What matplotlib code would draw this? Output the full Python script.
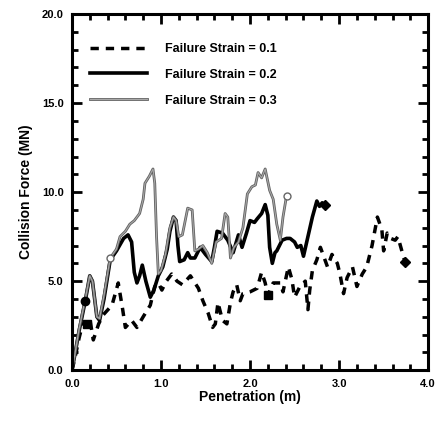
import matplotlib
matplotlib.use('Agg')
import matplotlib.pyplot as plt
import matplotlib.patheffects as pe
from matplotlib.ticker import MultipleLocator, FormatStrFormatter

plt.rcParams['font.family'] = ['Liberation Sans', 'DejaVu Sans']
plt.rcParams['font.weight'] = 'bold'

# Failure Strain = 0.1 (dashed)
x1 = [0, 0.03, 0.08, 0.12, 0.17, 0.2, 0.24, 0.3, 0.35, 0.45, 0.52, 0.57, 0.6, 0.67, 0.73,
      0.8, 0.88, 0.93, 0.97, 1.01, 1.06, 1.12, 1.18, 1.24, 1.33, 1.42, 1.47, 1.53, 1.58, 1.61,
      1.64, 1.69, 1.74, 1.78, 1.81, 1.85, 1.89, 1.92, 2.0, 2.08, 2.13, 2.17, 2.2, 2.26, 2.34,
      2.37, 2.43, 2.47, 2.5, 2.56, 2.62, 2.65, 2.67, 2.7, 2.75, 2.79, 2.87, 2.92, 2.98, 3.01,
      3.05, 3.09, 3.15, 3.2, 3.26, 3.31, 3.37, 3.43, 3.48, 3.5, 3.54, 3.58, 3.63, 3.66, 3.71, 3.74]
y1 = [0, 0.6, 1.8, 2.6, 2.6, 2.9, 1.7, 2.6, 3.1, 3.65, 4.9, 3.4, 2.4, 2.8, 2.4,
      3.0, 3.65, 4.7, 4.9, 4.5, 5.0, 5.4, 5.0, 4.8, 5.3, 4.6, 3.9, 3.2, 2.4, 2.6,
      3.8, 2.8, 2.6, 3.8, 4.4, 4.8, 3.9, 4.3, 4.4, 4.6, 5.5, 4.9, 4.2, 4.9, 4.9,
      4.4, 5.8, 5.1, 4.1, 4.7, 5.0, 3.4, 4.5, 5.6, 6.2, 6.9, 5.8, 6.5, 6.0, 5.4,
      4.3, 5.2, 5.8, 4.7, 5.4, 5.8, 7.0, 8.6, 7.9, 6.7, 7.7, 7.4, 7.3, 7.5, 6.6, 6.1]

# Failure Strain = 0.2 (solid)
x2 = [0, 0.03, 0.08, 0.15, 0.2, 0.23, 0.28, 0.31, 0.36, 0.43, 0.5, 0.58, 0.63, 0.67, 0.7,
      0.73, 0.76, 0.79, 0.83, 0.88, 0.92, 0.97, 1.02, 1.07, 1.1, 1.14, 1.17, 1.19, 1.21, 1.26,
      1.3, 1.33, 1.38, 1.44, 1.5, 1.57, 1.6, 1.63, 1.69, 1.75, 1.81, 1.87, 1.91, 1.96, 2.0,
      2.05, 2.08, 2.13, 2.17, 2.2, 2.22, 2.25, 2.28, 2.3, 2.36, 2.41, 2.45, 2.5, 2.53, 2.57,
      2.6, 2.65, 2.7, 2.75, 2.78, 2.81, 2.84]
y2 = [0, 0.8, 2.2, 3.9, 5.3, 5.0, 3.0, 2.8, 4.0, 6.2, 6.7, 7.4, 7.6, 7.2, 5.5,
      4.9, 5.3, 5.9, 5.0, 4.1, 4.5, 5.3, 5.8, 6.8, 7.8, 8.6, 8.4, 7.0, 6.1, 6.2,
      6.6, 6.3, 6.3, 6.9, 6.5, 6.1, 6.9, 7.8, 7.7, 7.3, 6.6, 7.6, 6.9, 7.7, 8.4,
      8.3, 8.5, 8.8, 9.3, 8.7, 6.9, 6.0, 6.6, 6.7, 7.3, 7.4, 7.4, 7.2, 6.9, 7.0,
      6.4, 7.5, 8.6, 9.5, 9.2, 9.4, 9.3]

# Failure Strain = 0.3 (grey)
x3 = [0, 0.03, 0.08, 0.15, 0.2, 0.23, 0.28, 0.31, 0.36, 0.43, 0.5, 0.54, 0.6, 0.65, 0.7,
      0.76, 0.8, 0.82, 0.87, 0.91, 0.93, 0.95, 0.97, 1.0, 1.05, 1.1, 1.14, 1.17, 1.2, 1.24,
      1.3, 1.35, 1.38, 1.42, 1.47, 1.52, 1.57, 1.62, 1.68, 1.72, 1.75, 1.78, 1.82, 1.87, 1.92,
      1.97, 2.02, 2.06, 2.09, 2.13, 2.17, 2.22, 2.26, 2.3, 2.34, 2.37, 2.41]
y3 = [0, 0.8, 2.3, 4.0, 5.3, 5.0, 3.0, 2.9, 4.2, 6.3, 6.8, 7.5, 7.8, 8.2, 8.4,
      8.8, 9.6, 10.5, 10.9, 11.3, 10.5, 7.5, 5.4, 5.6, 6.5, 8.0, 8.6, 8.4, 7.5, 7.6,
      9.1, 9.0, 6.7, 6.8, 7.0, 6.6, 6.0, 7.2, 7.4, 8.8, 8.6, 6.3, 6.9, 7.2, 8.0,
      9.9, 10.3, 10.4, 11.1, 10.8, 11.3, 10.1, 9.6, 8.2, 7.3, 8.6, 9.8]

fig = plt.figure(figsize=(4.36, 4.26), dpi=100)
ax = fig.add_axes([0.165, 0.131, 0.817, 0.836])

ax.plot(x1, y1, color='black', lw=2.5, dashes=(2.4, 2.0), label='Failure Strain = 0.1')
ax.plot(x2, y2, color='black', lw=2.6, label='Failure Strain = 0.2')
ax.plot(x3, y3, color='#a8a8a8', lw=0.8, label='Failure Strain = 0.3',
        path_effects=[pe.Stroke(linewidth=2.0, foreground='#606060'), pe.Normal()])

# markers
ax.plot([x1[4], x1[42]], [y1[4], y1[42]], 's', color='black', ms=6)
ax.plot(x1[-1], y1[-1], 'D', color='black', ms=5)
ax.plot(x2[3], y2[3], 'o', color='black', ms=6)
ax.plot(x2[-1], y2[-1], 'D', color='black', ms=5)
ax.plot([x3[9], x3[-1]], [y3[9], y3[-1]], 'o', mfc='white', mec='#666666', ms=5)

ax.set_xlim(0, 4)
ax.set_ylim(0, 20)
ax.xaxis.set_major_locator(MultipleLocator(1))
ax.xaxis.set_minor_locator(MultipleLocator(0.2))
ax.yaxis.set_major_locator(MultipleLocator(5))
ax.yaxis.set_minor_locator(MultipleLocator(1))
ax.xaxis.set_major_formatter(FormatStrFormatter('%.1f'))
ax.yaxis.set_major_formatter(FormatStrFormatter('%.1f'))
ax.tick_params(which='both', direction='in', top=True, right=True, width=2, labelsize=8)
ax.tick_params(which='major', length=7, pad=6)
ax.tick_params(which='minor', length=4)
for lab in ax.get_xticklabels() + ax.get_yticklabels():
    lab.set_family(['Liberation Sans Narrow', 'Liberation Sans'])
for s in ax.spines.values():
    s.set_linewidth(2.2)

ax.set_xlabel('Penetration (m)', fontsize=10, fontweight='bold', labelpad=1)
ax.set_ylabel('Collision Force (MN)', fontsize=10, fontweight='bold', labelpad=6)
ax.legend(loc='upper left', frameon=False, fontsize=9, handlelength=4.5, handletextpad=1.5,
          labelspacing=1.1, bbox_to_anchor=(0.02, 0.95))

fig.savefig('out.png', dpi=100)
